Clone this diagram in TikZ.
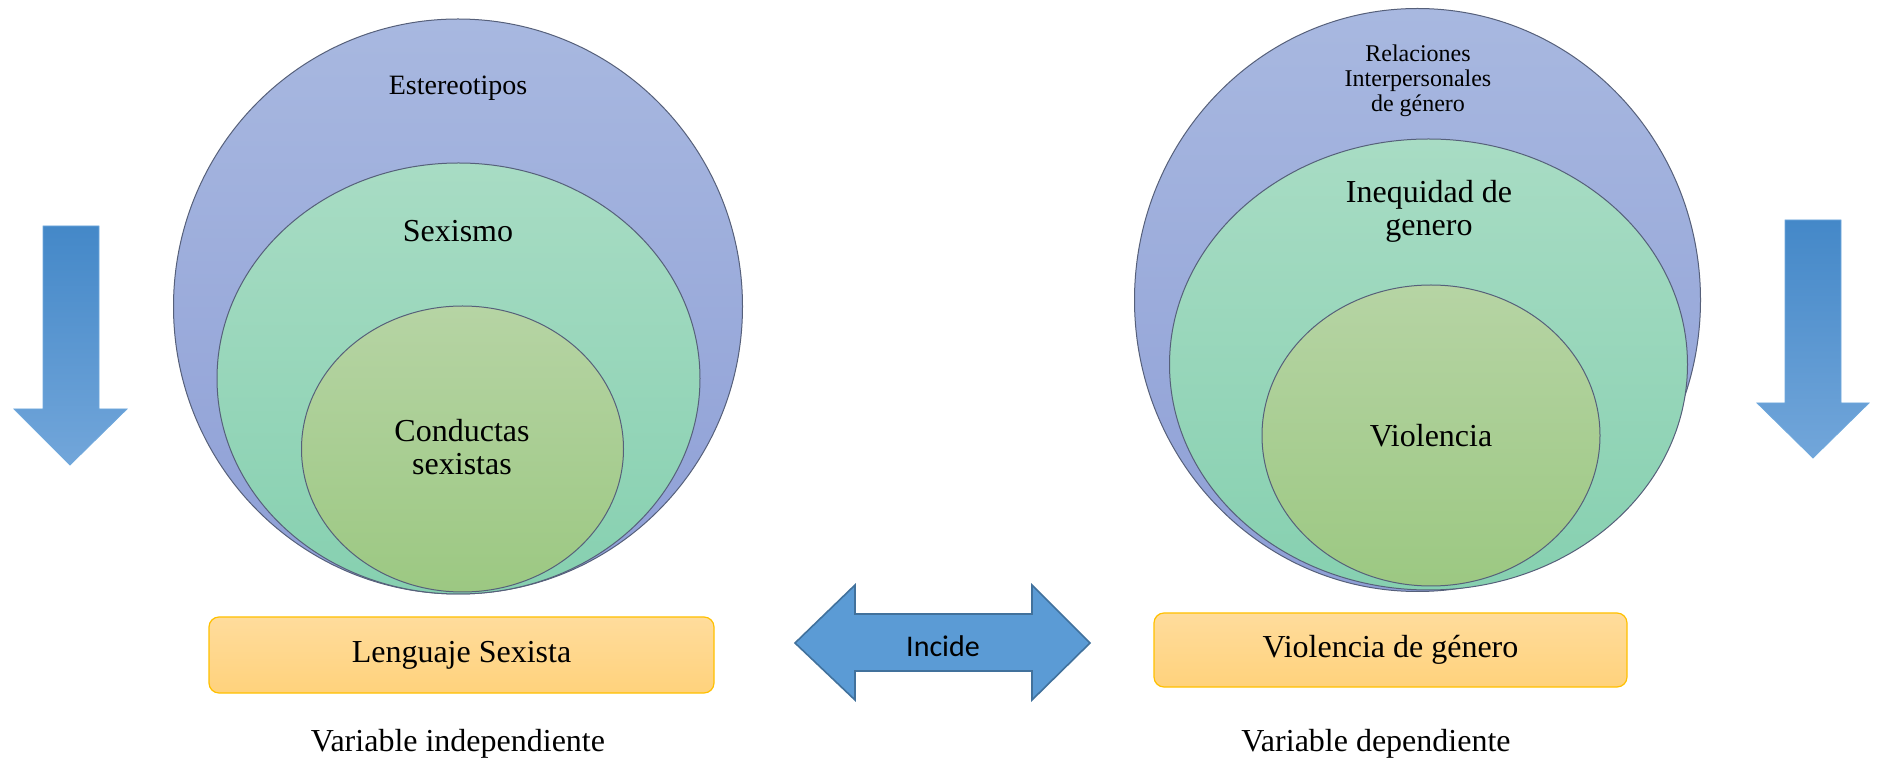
\documentclass[tikz,border=0pt]{standalone}
\usepackage{fontspec}
\setmainfont{Liberation Serif}
\newfontfamily\calibrifont{Carlito}
\usetikzlibrary{shapes.geometric}
\definecolor{circline}{HTML}{56607A}
\definecolor{outtop}{HTML}{A8B8E0}
\definecolor{outbot}{HTML}{8E9FD6}
\definecolor{midtop}{HTML}{A8DCC4}
\definecolor{midbot}{HTML}{86D0B0}
\definecolor{inntop}{HTML}{B6D4A4}
\definecolor{innbot}{HTML}{9CC882}
\definecolor{boxtop}{HTML}{FFDC9C}
\definecolor{boxbot}{HTML}{FFD27C}
\definecolor{boxline}{HTML}{FFC000}
\definecolor{incfill}{HTML}{5B9BD5}
\definecolor{incline}{HTML}{41719C}
\definecolor{arrtop}{HTML}{4488C8}
\definecolor{arrbot}{HTML}{72A6DA}
\definecolor{arrline}{HTML}{6FA8DC}
\tikzset{
  ring/.style={ellipse, draw=circline, line width=0.5pt, inner sep=0pt},
  outerring/.style={ring, top color=outtop, bottom color=outbot},
  midring/.style={ring, top color=midtop, bottom color=midbot},
  innerring/.style={ring, top color=inntop, bottom color=innbot},
  lbl/.style={align=center, inner sep=0pt},
  bigtxt/.style={font=\fontsize{16}{16.5}\selectfont},
  varbox/.style={rounded corners=5pt, draw=boxline, line width=0.6pt, top color=boxtop, bottom color=boxbot, inner sep=0pt, font=\fontsize{16}{18}\selectfont},
  downarrow/.style={top color=arrtop, bottom color=arrbot, draw=arrline, line width=0.4pt},
  incarrow/.style={fill=incfill, draw=incline, line width=0.8pt, line join=miter}
}
\begin{document}
\begin{tikzpicture}[x=0.5pt,y=-0.5pt]
\useasboundingbox (0,0) rectangle (1881,764);

% left down arrow
\shade[downarrow] (43,226) -- (99,226) -- (99,409) -- (127,409) -- (70,465) -- (14,409) -- (43,409) -- cycle;
% right down arrow
\shade[downarrow] (1785,220) -- (1841,220) -- (1841,403) -- (1869,403) -- (1813,458) -- (1757,403) -- (1785,403) -- cycle;

% left circles
\node[outerring, minimum width=284.5pt, minimum height=287.5pt] (est) at (458,306.5) {};
\node[midring, minimum width=241.5pt, minimum height=215.5pt] (sex) at (458.5,378.5) {};
\node[innerring, minimum width=161pt, minimum height=143pt] (cond) at (462.5,449) {};
\node[lbl, font=\fontsize{14}{15}\selectfont] (estt) at (458,88) {Estereotipos};
\node[lbl, bigtxt] (sext) at (458,231) {Sexismo};
\node[lbl, bigtxt] (condt) at (462,447) {Conductas\\sexistas};

% right circles
\node[outerring, minimum width=283pt, minimum height=291.5pt] (rel) at (1417.5,300) {};
\node[midring, minimum width=259pt, minimum height=225.5pt] (ineq) at (1428.5,364.5) {};
\node[innerring, minimum width=169pt, minimum height=150.5pt] (viol) at (1431,435.5) {};
\node[lbl, font=\fontsize{12}{12.5}\selectfont] (relt) at (1418,81) {Relaciones\\Interpersonales\\de género};
\node[lbl, bigtxt] (ineqt) at (1429,211) {Inequidad de\\genero};
\node[lbl, bigtxt] (violt) at (1431,436) {Violencia};

% boxes
\node[varbox, minimum width=252.5pt, minimum height=38pt] (leng) at (461.5,655) {Lenguaje Sexista};
\node[varbox, minimum width=236.5pt, minimum height=37pt] (vgen) at (1390.5,650) {Violencia de género};

% double arrow
\draw[incarrow] (795,643) -- (855,585) -- (855,614) -- (1032,614) -- (1032,585) -- (1090,643) -- (1032,700) -- (1032,671) -- (855,671) -- (855,700) -- cycle;
\node[lbl, font=\calibrifont\fontsize{15}{17}\selectfont] (inc) at (943,646) {Incide};

% variable labels
\node[lbl, bigtxt] (vind) at (458,744) {Variable independiente};
\node[lbl, bigtxt] (vdep) at (1376,744) {Variable dependiente};
\end{tikzpicture}
\end{document}
